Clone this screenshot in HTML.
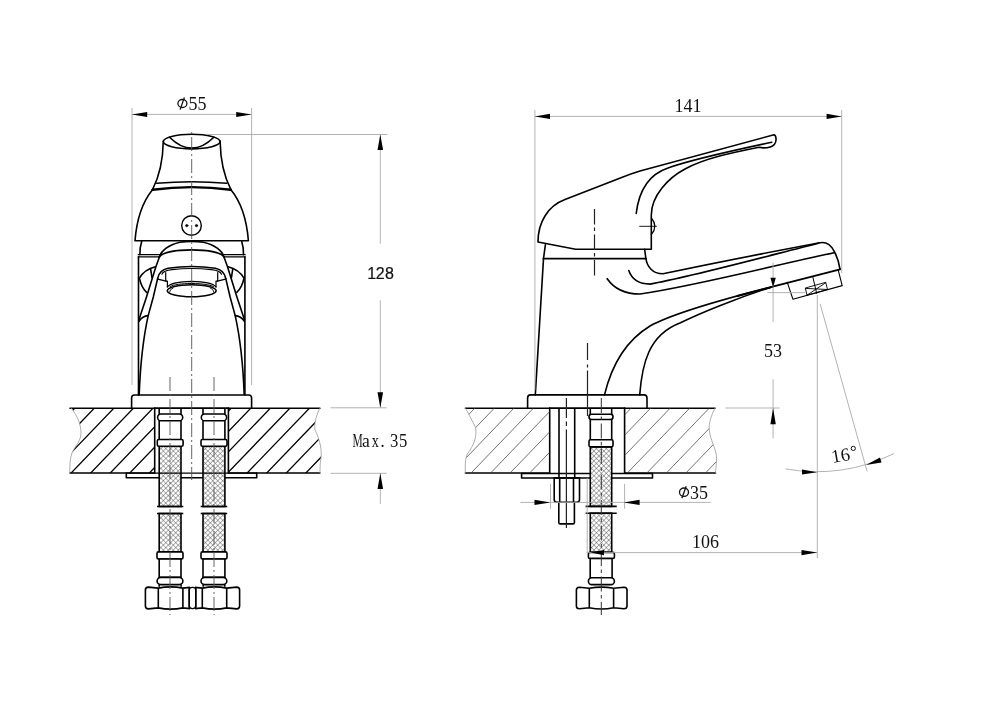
<!DOCTYPE html>
<html><head><meta charset="utf-8">
<style>
html,body{margin:0;padding:0;background:#fff;}
svg{display:block;will-change:transform;}
</style></head>
<body>
<svg width="1000" height="706" viewBox="0 0 1000 706">
<defs>
  <pattern id="mesh" width="3.5" height="3.5" patternUnits="userSpaceOnUse" patternTransform="rotate(45)">
    <rect width="3.5" height="3.5" fill="#fff"/>
    <path d="M0 0H3.5M0 0V3.5" stroke="#555" stroke-width="0.95"/>
  </pattern>
  <clipPath id="ctL"><path d="M71 408 H154.7 V473 H69.8 C69.6 466 70 458 72 453 C75 446 81 441 81 433 C81 424 77 415 71 408Z M228.4 408 H319.9 C316 416 314 424 315 430 C320 440 322 450 321 457.8 C320 464 320 470 320 473 H228.4Z"/></clipPath>
  <clipPath id="ctR"><path d="M465.4 408 H549.7 V473 H465.4 C465 466 465 460 467.2 454.2 C474 445 477 437 475.6 427.7 C472 420 468 413 465.4 408Z M624.6 408 H715 C711 416 708.5 424 709.3 430 C710 440 717 450 716.6 459 C716.4 465 715.6 470 715.5 473 H624.6Z"/></clipPath>
</defs>

<!-- ============ LEFT VIEW ============ -->
<g fill="none" stroke="#000" stroke-width="1.6" stroke-linejoin="round" stroke-linecap="round">
  <!-- countertop -->
  <path d="M70 408.2 H154.7 M228.4 408.2 H319.9 M70 473 H154.7 M228.4 473 H319.9"/>
  <path d="M154.7 408.2 V473 M228.4 408.2 V473"/>
  <!-- under plate -->
  <path d="M126.3 473 V477.7 H256.7 V473"/>
  <!-- base plate -->
  <path d="M131.6 408 V398 Q131.6 395 134.6 395 H248.6 Q251.6 395 251.6 398 V408 M154.7 408.1 H228.4"/>
  <!-- body edges -->
  <path d="M138.5 395 V256.9 M244.9 395 V256.9"/>
  <path d="M138.2 254.7 H159.5 M223.9 254.7 H245.2" stroke-width="1.2"/>
  <path d="M138.2 256.9 H159.2 M224.2 256.9 H245.2" stroke-width="1.2"/>
  <!-- cap under dome -->
  <path d="M141.8 241 C140.2 246 139.8 251 139.9 254.7 M241.6 241 C243.2 246 243.6 251 243.5 254.7"/>
  <!-- dome -->
  <path d="M135 240.8 H248.4 M135 240.8 C137 215 144 200 152.5 189.7 M248.4 240.8 C246.4 215 239.4 200 230.9 189.7"/>
  <!-- band -->
  <path d="M156.6 183.3 Q191.7 180.2 226.8 183.3"/>
  <path d="M152.5 189.7 Q191.7 184.5 230.9 189.7" stroke-width="2.4"/>
  <!-- handle neck -->
  <path d="M163.3 141 C163 160 160 175 152.5 189.7 M220.1 141 C220.4 160 223.4 175 230.9 189.7"/>
  <!-- top ellipse -->
  <ellipse cx="191.7" cy="141.6" rx="28.4" ry="7.3"/>
  <path d="M169.5 137.2 Q191.7 159 213.9 137.2"/>
  <!-- small circle -->
  <circle cx="191.5" cy="225.5" r="9.8" stroke-width="1.4"/>
  <circle cx="186.8" cy="225.6" r="1.2" fill="#000" stroke-width="0.6"/>
  <circle cx="196.5" cy="225.6" r="1.2" fill="#000" stroke-width="0.6"/>
  <!-- spout arches -->
  <path d="M159.5 256.8 C161 251 168 245 180 242.2 Q191.7 240.6 203.4 242.2 C215.4 245 222.4 251 223.9 256.8"/>
  <path d="M159.2 256.9 C163 252.5 172 250 191.7 249.9 C211.4 250 220.4 252.5 224.2 256.9"/>
  <!-- outer legs -->
  <path d="M159.5 256.8 L155.8 267 L146.5 297 L139 319.5"/>
  <path d="M223.9 256.8 L227.6 267 L236.9 297 L244.4 319.5"/>
  <!-- inner legs -->
  <path d="M157.6 278.6 L153.3 297 L148.2 315.6 C145 330 140.5 360 139.2 394.4"/>
  <path d="M225.8 278.6 L230.1 297 L235.2 315.6 C238.4 330 242.9 360 244.2 394.4"/>
  <!-- lower wings -->
  <path d="M139 321.2 Q142.5 316 148.2 315.6 M244.4 321.2 Q240.9 316 235.2 315.6"/>
  <!-- upper wings -->
  <path d="M139.4 278.2 Q144.5 269.5 155.3 266.8 M139.4 278.2 Q141.5 288 146.6 292.3 M150.7 269.3 L152 277.8"/>
  <path d="M244 278.2 Q238.9 269.5 228.1 266.8 M244 278.2 Q241.9 288 236.8 292.3 M232.7 269.3 L231.4 277.8"/>
  <!-- aerator -->
  <path d="M157.6 278.6 C158.5 273.5 161 269.8 168 268.3 Q191.7 264.8 215.4 268.3 C222.4 269.8 224.9 273.5 225.8 278.6"/>
  <path d="M161.9 274.2 C163 271.5 166 270.2 172 269.6 Q191.7 267.3 211.4 269.6 C217.4 270.2 220.4 271.5 221.5 274.2" stroke-width="1.1"/>
  <path d="M157.8 279.2 L166 281.2 M225.6 279.2 L217.4 281.2" stroke-width="1.2"/>
  <path d="M165.7 272.6 V281.2 H167.4 V287 M217.7 272.6 V281.2 H216 V287" stroke-width="1.2"/>
  <path d="M167.4 286.9 C170 284 178 281.6 191.7 281.4 C205.4 281.6 213.4 284 216 286.9" stroke-width="1.3"/>
  <path d="M170 286.5 C174 284.6 181 283.6 191.7 283.5 C202.4 283.6 209.4 284.6 213.4 286.5" stroke-width="1"/>
  <ellipse cx="191.7" cy="290.7" rx="24.4" ry="6" stroke-width="1.6"/>
  <path d="M169.5 292 Q170 289 173 288" stroke-width="0.9"/>
  <path d="M213.9 292 Q213.4 289 210.4 288" stroke-width="0.9"/>
</g>
<!-- hoses left -->
<g stroke="#000" stroke-width="1.6" fill="none">
  <rect x="159.2" y="446.3" width="21.8" height="60.2" fill="url(#mesh)"/>
  <rect x="159.2" y="513.5" width="21.8" height="38.4" fill="url(#mesh)"/>
  <rect x="203" y="446.3" width="21.9" height="60.2" fill="url(#mesh)"/>
  <rect x="203" y="513.5" width="21.9" height="38.4" fill="url(#mesh)"/>
  <path d="M159.2 408 V446 M181 408 V446 M203 408 V446 M224.9 408 V446"/>
  <path d="M126.3 473.1 H256.7" stroke-width="1.4"/>
  <path d="M157 506.5 H183.3 M157 513.5 H183.3 M200.7 506.5 H227.2 M200.7 513.5 H227.2"/>
  <rect x="157.6" y="414" width="25.1" height="6.8" rx="3.4" fill="#fff"/>
  <rect x="157.3" y="439.5" width="25.8" height="6.8" rx="1.5" fill="#fff"/>
  <rect x="201.3" y="414" width="25.3" height="6.8" rx="3.4" fill="#fff"/>
  <rect x="201" y="439.5" width="26" height="6.8" rx="1.5" fill="#fff"/>
  <!-- lower fittings -->
  <rect x="157" y="551.9" width="26" height="7.1" rx="1.5" fill="#fff"/>
  <rect x="159.2" y="559" width="21.8" height="18.4" fill="#fff"/>
  <rect x="157.1" y="577.4" width="25.8" height="7.2" rx="3.6" fill="#fff"/>
  <path d="M159.2 584.6 V586.7 M181.1 584.6 V586.7"/>
  <rect x="201" y="551.9" width="26" height="7.1" rx="1.5" fill="#fff"/>
  <rect x="203" y="559" width="21.9" height="18.4" fill="#fff"/>
  <rect x="201" y="577.4" width="25.8" height="7.2" rx="3.6" fill="#fff"/>
  <path d="M203.2 584.6 V586.7 M224.8 584.6 V586.7"/>
  <!-- nuts -->
  <path d="M158.3 588.1 Q170.60000000000002 585.6999999999999 182.9 588.1 V607.9 Q170.60000000000002 610.3000000000001 158.3 607.9 Z M158.3 588.1 L148.4 587.1 Q145.4 587.1 145.4 589.9 V606.1 Q145.4 608.9 148.4 608.9 L158.3 607.9 M182.9 588.1 L189.2 587.5 V608.5 L182.9 607.9"/>
  <path d="M202.3 588.1 Q214.5 585.6999999999999 226.7 588.1 V607.9 Q214.5 610.3000000000001 202.3 607.9 Z M202.3 588.1 L195.8 587.5 V608.5 L202.3 607.9 M226.7 588.1 L236.6 587.1 Q239.6 587.1 239.6 589.9 V606.1 Q239.6 608.9 236.6 608.9 L226.7 607.9"/>
  <rect x="189.2" y="587.4" width="6.6" height="21.2" rx="3" stroke-width="1.3"/>
</g>
<!-- hatch left -->
<g clip-path="url(#ctL)" stroke="#000" stroke-width="1.3">
  <path id="hatchL" d="M82.30 380 L-33.08 500 M101.86 380 L-13.52 500 M121.42 380 L6.04 500 M140.98 380 L25.60 500 M160.54 380 L45.16 500 M180.10 380 L64.72 500 M199.66 380 L84.28 500 M219.22 380 L103.84 500 M238.78 380 L123.40 500 M258.34 380 L142.96 500 M277.90 380 L162.52 500 M297.46 380 L182.08 500 M317.02 380 L201.64 500 M336.58 380 L221.20 500 M356.14 380 L240.76 500 M375.70 380 L260.32 500 M395.26 380 L279.88 500 M414.82 380 L299.44 500"/>
</g>
<g fill="none" stroke="#999" stroke-width="0.8">
  <path d="M71 408 C77 415 81 424 81 433 C81 441 75 446 72 453 C70 458 69.6 466 69.8 473"/>
  <path d="M319.9 408 C316 416 314 424 315 430 C320 440 322 450 321 457.8 C320 464 320 470 320 473"/>
</g>

<!-- centerlines left -->
<g stroke="#555" stroke-width="0.9" fill="none" stroke-dasharray="14 3 2 3">
  <path d="M191.7 132 V480" stroke-dashoffset="17"/>
  <path d="M170 377 V615 M214 377 V615"/>
</g>

<!-- dims left -->
<g stroke="#aaa" stroke-width="0.9" fill="none">
  <path d="M132 108 V385 M251.6 108 V385"/>
  <path d="M132 114.4 H251.6"/>
  <path d="M206.5 134.5 H387.4"/>
  <path d="M380.3 134.5 V243.7 M380.3 300.3 V407.8 M330.5 407.8 H386.7 M330.5 473.3 H386.7 M380.3 473.3 V504"/>
</g>
<g fill="#000" stroke="none">
  <path d="M131.8 114.4 L147.2 111.9 V116.9Z M251.6 114.4 L236.2 111.9 V116.9Z"/>
  <path d="M380.3 134.5 L377.5 150 H383.1Z M380.3 407.8 L377.5 392.2 H383.1Z M380.3 473.3 L377.5 488.9 H383.1Z"/>
</g>

<!-- ============ RIGHT VIEW ============ -->
<g fill="none" stroke="#000" stroke-width="1.6" stroke-linejoin="round" stroke-linecap="round">
  <path d="M465.4 408.2 H549.7 M624.6 408.2 H715 M465.4 473 H549.7 M624.6 473 H715.5"/>
  <path d="M549.7 408.2 V473 M624.6 408.2 V473"/>
  <path d="M521.6 473.5 V478 H652.5 V473.5 M521.6 473.5 H652.5"/>
  <path d="M527.6 408 V398 Q527.6 394.9 530.6 394.9 H644 Q647 394.9 647 398 V408 M549.7 408.1 H624.6"/>
  <!-- body -->
  <path d="M535.3 394.9 L543.5 258.6"/>
  <path d="M543.5 258.6 H645.9" stroke-width="1.9"/>
  <path d="M644.6 249.2 L645.9 258.6"/>
  <!-- handle -->
  <path d="M545.4 244.7 L543.5 258.6"/>
  <path d="M651.3 249.2 H575.6 L538 242 C538 222 548 206 565 199.6 L621 177.8 Q630.5 174 640 171.1 L774 134.75 C776.5 135.5 776.8 141.5 774.5 144.2 C772.5 146.8 769 147.9 763.2 147.9 L759 147.2 C735 152 705 158 685 169 C668 178 651.3 196 651.3 215 V249.2"/>
  <path d="M771.75 142.25 C740 149 690 160 668 168 C650 174 639 190 636.2 213.5"/>
  <path d="M651.3 218 Q658.5 226.3 651.3 234.6" stroke-width="1.2"/>
  <!-- spout top curves -->
  <path d="M645.9 258.5 C647 266 652 273.8 663 273.8 C700 266 760 254 818.4 243"/>
  <path d="M628.8 270.6 C632 280 640 284.1 650 284.1 C690 277 760 258 818.4 243.2"/>
  <path d="M607.2 278.7 C615 290 626 294 640 294 C700 285 770 266 834.3 252.7"/>
  <!-- spout end -->
  <path d="M818.4 243 C826 241 831 245 834 251 C837.5 257 839 263 840 269.1"/>
  <path d="M840 269.3 L772.7 286.7 L737.4 296" stroke-width="1.9"/>
  <path d="M838.2 270.2 L842.2 285.6 L792.9 299.2 L787.2 282.2" stroke-width="1.1"/>
  <path d="M812.7 276.5 L816.7 293.5" stroke-width="1"/>
  <path d="M805.4 288.4 L807 295.2 L827.5 289.5 L825.8 282.7Z M805.4 288.4 L827.5 289.5 M807 295.2 L825.8 282.7" stroke-width="0.9"/>
  <!-- spout lower -->
  <path d="M604.5 394.9 C610 372 622 343 650 326 C670 315 720 300 772.7 286.7"/>
  <path d="M639.7 394.9 C642 365 648 335 680.5 322.8 C700 313 740 297 772.7 286.7"/>
</g>
<!-- hatch right -->
<g clip-path="url(#ctR)" stroke="#444" stroke-width="0.75">
  <path d="M462.86 380 L347.48 500 M482.39 380 L367.01 500 M501.92 380 L386.54 500 M521.45 380 L406.07 500 M540.98 380 L425.60 500 M560.51 380 L445.13 500 M580.04 380 L464.66 500 M599.57 380 L484.19 500 M619.10 380 L503.72 500 M638.63 380 L523.25 500 M658.16 380 L542.78 500 M677.69 380 L562.31 500 M697.22 380 L581.84 500 M716.75 380 L601.37 500 M736.28 380 L620.90 500 M755.81 380 L640.43 500 M775.34 380 L659.96 500 M794.87 380 L679.49 500"/>
</g>
<g fill="none" stroke="#999" stroke-width="0.8">
  <path d="M465.4 408 C468 413 472 420 475.6 427.7 C477 437 474 445 467.2 454.2 C465 460 465 466 465.4 473"/>
  <path d="M715 408 C711 416 708.5 424 709.3 430 C710 440 717 450 716.6 459 C716.4 465 715.6 470 715.5 473"/>
</g>
<!-- rod & hose right -->
<g stroke="#000" stroke-width="1.6" fill="none">
  <path d="M559 408 V477.7 M574.7 408 V477.7"/>
  <path d="M554.2 477.9 H579.5 V499.5 Q579.5 502.3 576.7 502.3 H557 Q554.2 502.3 554.2 499.5Z M559.7 477.9 V502.3 M573.5 477.9 V502.3"/>
  <path d="M558.8 502.3 V522.5 Q558.8 523.9 560.2 523.9 H573 Q574.4 523.9 574.4 522.5 V502.3"/>
  <rect x="590.3" y="447" width="21.4" height="59.4" fill="url(#mesh)"/>
  <rect x="590.3" y="513.2" width="21.4" height="39.2" fill="url(#mesh)"/>
  <path d="M590.3 408 V447 M611.7 408 V447"/>
  <rect x="589" y="414.2" width="24" height="5.3" rx="2.5" fill="#fff"/>
  <rect x="589" y="439.8" width="24" height="7" rx="1.5" fill="#fff"/>
  <path d="M585.6 506.4 H616.7 M585.6 513.2 H616.7"/>
  <rect x="588.4" y="552.4" width="26" height="6.1" rx="1.5" fill="#fff"/>
  <rect x="590.2" y="558.5" width="21.9" height="19.3" fill="#fff"/>
  <rect x="588.4" y="577.8" width="26" height="6.8" rx="3.4" fill="#fff"/>
  <path d="M589.3 588.3000000000001 Q601.45 585.9 613.6 588.3000000000001 V607.8 Q601.45 610.2 589.3 607.8 Z M589.3 588.3000000000001 L579.4 587.3000000000001 Q576.4 587.3000000000001 576.4 590.1 V606 Q576.4 608.8 579.4 608.8 L589.3 607.8 M613.6 588.3000000000001 L624 587.3000000000001 Q627 587.3000000000001 627 590.1 V606 Q627 608.8 624 608.8 L613.6 607.8"/>
</g>
<g stroke="#222" stroke-width="1.2" fill="none">
  <path d="M594.5 209 V278.3" stroke-dasharray="15.5 3 3.5 3.5"/>
  <path d="M587.5 343 V360 M587.5 364.5 V367.5 M587.5 370.5 V416"/>
  <path d="M566.4 398 V418 M566.4 421.5 V426 M566.4 429.5 V528" stroke-dasharray="none"/>
  <path d="M601.3 398 V615" stroke-dasharray="15 3.5 3.5 3.5" stroke="#333" stroke-width="1"/>
</g>
<!-- dims right -->
<g stroke="#aaa" stroke-width="0.9" fill="none">
  <path d="M534.9 110 V390 M841.7 110 V273"/>
  <path d="M534.9 116.4 H841.7"/>
  <path d="M639.3 226.3 H656.8" stroke="#000"/>
  <path d="M773.1 262.5 V321.9 M773.1 379.3 V438.3 M767.4 292.6 H805 M725.7 408 H779.6"/>
  <path d="M817.3 295 V558.2"/>
  <path d="M820.1 303.8 L867.1 471.4"/>
  <path d="M785.5 468.9 A177 177 0 0 0 893.9 453.6"/>
  <path d="M550.5 483.8 V508.7 M624.6 483.8 V508.7 M520.4 502.4 H710.7"/>
  <path d="M587.2 478 V553 M587.2 552.6 H817.3"/>
</g>
<g fill="#000" stroke="none">
  <path d="M534.9 116.4 L550 113.8 V119Z M841.7 116.4 L826.6 113.8 V119Z"/>
  <path d="M773.1 287.2 L770.4 277.8 H775.8Z M773.1 408 L770.4 424.2 H775.8Z"/>
  <path d="M817.3 472.2 L802 469.5 L802 474.5Z"/>
  <path d="M866 465 L880 457.5 L881.5 462.5Z"/>
  <path d="M550.3 502.4 L534.5 499.7 V505.1Z M623.8 502.4 L639.6 499.7 V505.1Z"/>
  <path d="M590.5 552.6 L604 550 V555.2Z M817.3 552.6 L801.5 550 V555.2Z"/>
</g>

<!-- text -->
<g fill="#111" font-family="Liberation Serif, serif" font-size="18">
  <text x="197.4" y="109.8" text-anchor="middle">55</text>
  <text x="688.1" y="112" text-anchor="middle">141</text>
  <text x="773" y="356.8" text-anchor="middle">53</text>
  <text x="699.1" y="498.8" text-anchor="middle">35</text>
  <text x="705.5" y="548.2" text-anchor="middle">106</text>
  <text x="840.7" y="461.5" text-anchor="middle" transform="rotate(-10 841 456)" font-size="18.5">16</text>
</g>
<g fill="none" stroke="#111" stroke-width="1.3">
  <ellipse cx="182.4" cy="103.5" rx="4.5" ry="4"/>
  <path d="M180.1 109.6 L184.4 97.4"/>
  <ellipse cx="684" cy="492.2" rx="4.5" ry="4.2"/>
  <path d="M681.9 498.2 L686.2 486.3"/>
  <circle cx="853.3" cy="448.4" r="2.1" stroke-width="1"/>
</g>
<g font-family="Liberation Sans, sans-serif" font-size="16" fill="#111" stroke="#111" stroke-width="0.2" text-anchor="middle"><text x="371.6" y="278.6">1</text><text x="380.2" y="278.6">2</text><text x="389.5" y="278.6">8</text></g>
<g font-family="Liberation Serif, serif" font-size="18.5" fill="#111"><text transform="translate(352.38 446.6) scale(0.62 1)">M</text><text transform="translate(361.95 446.6) scale(0.95 1)">a</text><text transform="translate(371.73 446.6) scale(0.77 1)">x</text><text transform="translate(380.60 446.6) scale(0.9 1)">.</text><text transform="translate(389.90 446.6) scale(0.9 1)">3</text><text transform="translate(398.90 446.6) scale(0.9 1)">5</text></g>
</svg>
</body></html>
